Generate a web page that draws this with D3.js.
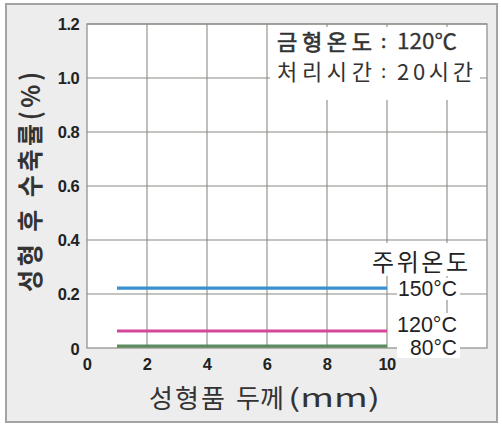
<!DOCTYPE html>
<html><head><meta charset="utf-8">
<script src="https://cdn.jsdelivr.net/npm/d3@7"></script>
<style>body{margin:0;background:#fff;}</style>
</head><body>
<svg id="c" width="502" height="425"></svg>
<script>
const xTicks = [0, 2, 4, 6, 8, 10, 12];
const xTickLabels = ["0", "2", "4", "6", "8", "10"];
const yTicks = [0, 0.2, 0.4, 0.6, 0.8, 1.0, 1.2];
const yTickLabels = ["0", "0.2", "0.4", "0.6", "0.8", "1.0", "1.2"];
const seriesNames = ["150°C", "120°C", "80°C"];
const seriesColors = ["#3a8fcf", "#d4479a", "#5b8b5f"];
const thickness = [1, 10];
const shrink150 = [0.222, 0.222];
const shrink120 = [0.063, 0.063];
const shrink80 = [0.007, 0.007];
const seriesValues = [shrink150, shrink120, shrink80];

const svg = d3.select("#c");
svg.append("rect").attr("x", 6).attr("y", 4).attr("width", 491).attr("height", 418)
  .attr("fill", "#ededed").attr("stroke", "#a3a3a3").attr("stroke-width", 2);

const L = 87, R = 487, T = 24, B = 348;
const x = d3.scaleLinear().domain([0, 400/30]).range([L, R]);
const y = d3.scaleLinear().domain([0, 1.2]).range([B, T]);
const gridC = "#8e8a84";

svg.append("rect").attr("x", L).attr("y", T).attr("width", R - L).attr("height", B - T).attr("fill", "#fff");

svg.selectAll("line.v").data(xTicks.slice(1)).join("line")
  .attr("x1", d => x(d)).attr("x2", d => x(d)).attr("y1", T).attr("y2", B)
  .attr("stroke", gridC).attr("stroke-width", 1.1);
svg.selectAll("line.h").data(yTicks.slice(1)).join("line")
  .attr("x1", L).attr("x2", R).attr("y1", d => y(d)).attr("y2", d => y(d))
  .attr("stroke", gridC).attr("stroke-width", 1.1);
svg.append("rect").attr("x", L).attr("y", T).attr("width", R - L).attr("height", B - T)
  .attr("fill", "none").attr("stroke", gridC).attr("stroke-width", 1.2);

function whiteBox(x0, y0, w, h) {
  svg.append("rect").attr("x", x0).attr("y", y0).attr("width", w).attr("height", h).attr("fill", "#fff");
}
whiteBox(270, 27, 210, 73);
whiteBox(368, 243, 104, 33);
whiteBox(397, 278, 63, 22);
whiteBox(397, 313, 63, 45);

const line = d3.line().x((d, i) => x(thickness[i])).y(d => y(d));
seriesValues.forEach((vals, i) => {
  svg.append("path").attr("d", line(vals)).attr("fill", "none")
    .attr("stroke", seriesColors[i]).attr("stroke-width", 3.2);
});

const tickFont = "'Liberation Sans', Arial, sans-serif";
svg.selectAll("text.yt").data(yTicks).join("text")
  .attr("x", 79).attr("y", (d, i) => i === 0 ? y(d) + 1 : y(d))
  .attr("dy", "0.36em").attr("text-anchor", "end")
  .attr("font-family", tickFont).attr("font-weight", "bold").attr("font-size", 16.5)
  .attr("letter-spacing", -0.6).attr("fill", "#222")
  .text((d, i) => yTickLabels[i]);
svg.selectAll("text.xt").data(xTickLabels).join("text")
  .attr("x", (d, i) => x(xTicks[i])).attr("y", 370)
  .attr("text-anchor", "middle")
  .attr("font-family", tickFont).attr("font-weight", "bold").attr("font-size", 16.5)
  .attr("letter-spacing", -0.6).attr("fill", "#222")
  .text(d => d);

const kfont = "'Noto Sans CJK KR', sans-serif";
function ktext(tx, ty, str, size, len, opts = {}) {
  const t = svg.append("text").attr("x", tx).attr("y", ty)
    .attr("font-family", opts.family || kfont).attr("font-size", size)
    .attr("fill", opts.fill || "#333").text(str);
  if (opts.weight) t.attr("font-weight", opts.weight);
  if (opts.stroke) t.attr("stroke", opts.fill || "#333").attr("stroke-width", opts.stroke);
  if (len) t.attr("textLength", len).attr("lengthAdjust", opts.adjust || "spacing");
  return t;
}
// x axis title
ktext(149, 408, "성형품", 26, 76);
ktext(236, 408, "두께", 26, 48);
ktext(288, 407, "(mm)", 25, 92, {adjust: "spacingAndGlyphs"});

// y axis title
svg.append("text").attr("transform", "translate(40,182) rotate(-90) scale(1,1.08)")
  .attr("text-anchor", "middle")
  .attr("font-family", kfont).attr("font-size", 24).attr("font-weight", "bold").attr("fill", "#333")
  .attr("textLength", 220).attr("lengthAdjust", "spacing")
  .text("성형 후 수축률(%)");

// annotation
ktext(277, 50, "금형온도", 22, 95, {stroke: 0.7});
ktext(381, 48, ":", 19, null, {stroke: 0.5});
ktext(397, 49, "120℃", 21, 60, {adjust: "spacingAndGlyphs", stroke: 0.3});
ktext(277, 80, "처리시간", 22, 95);
ktext(381, 78, ":", 19);
ktext(397, 80, "20시간", 22, 76);

// legend
ktext(372, 271, "주위온도", 24, 96, {fill: "#222"});
const labelY = [296, 332, 355];
const labelW = [59, 60, 47];
seriesNames.forEach((n, i) => {
  ktext(457 - labelW[i], labelY[i], n, 22, labelW[i], {family: tickFont, fill: "#222", adjust: "spacingAndGlyphs"});
});
</script>
</body></html>
